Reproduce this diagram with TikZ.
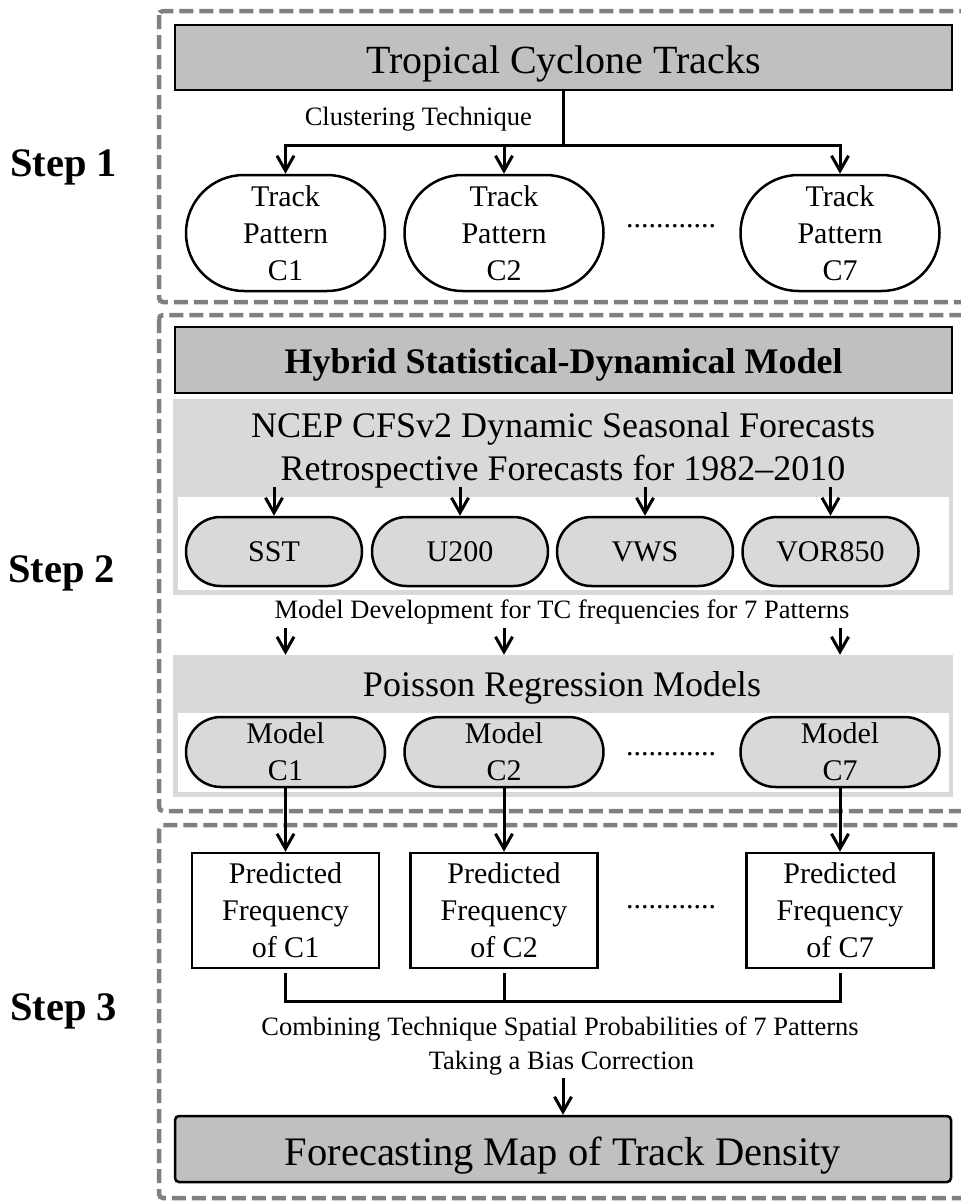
\documentclass[tikz,border=0pt]{standalone}
\usepackage{fontspec}
\setmainfont{Liberation Serif}
\usetikzlibrary{arrows.meta,shapes.misc}

\definecolor{framegray}{HTML}{808080}
\definecolor{titlegray}{HTML}{C0C0C0}
\definecolor{panelgray}{HTML}{D9D9D9}

\tikzset{
  stepframe/.style={draw=framegray, line width=4.5pt, dash pattern=on 14pt off 6pt, rounded corners=4pt},
  titlebox/.style={draw, line width=2.5pt, fill=titlegray, inner sep=0pt, minimum width=777pt, minimum height=65pt, text depth=0pt},
  panel/.style={fill=panelgray, inner sep=0pt, minimum width=780pt},
  whitepanel/.style={fill=white, inner sep=0pt, minimum width=771pt},
  pill/.style={draw, line width=2.5pt, rounded rectangle, inner sep=0pt, align=center, font=\fontsize{30}{37}\selectfont},
  freqbox/.style={draw, line width=2.5pt, fill=white, inner sep=0pt, align=center, minimum width=187pt, minimum height=115pt, font=\fontsize{30}{37}\selectfont},
  steplabel/.style={anchor=base west, inner sep=0pt, font=\fontsize{40.5}{48}\selectfont\bfseries},
  smalllabel/.style={inner sep=0pt, font=\fontsize{26.5}{32}\selectfont},
  paneltext/.style={anchor=base, inner sep=0pt, font=\fontsize{36}{43}\selectfont},
  ellipsis/.style={anchor=base, inner sep=0pt, font=\fontsize{30}{36}\selectfont},
  conn/.style={line width=3pt},
  arr/.style={conn, -{Straight Barb[length=15pt,width=17pt]}},
}

\begin{document}
\begin{tikzpicture}[x=1pt, y=-1pt]
\useasboundingbox (0,0) rectangle (961,1202);
\clip (0,0) rectangle (961,1202);

% dashed frames of the three steps
\draw[stepframe] (159,11) rectangle (990,302);
\draw[stepframe] (159,315) rectangle (990,811);
\draw[stepframe] (159,825) rectangle (990,1198);

% step labels
\node[steplabel] (step1) at (10,176) {Step 1};
\node[steplabel] (step2) at (8,582) {Step 2};
\node[steplabel] (step3) at (10,1020) {Step 3};

% ---------- Step 1 ----------
\node[titlebox, text height=31.6pt, font=\fontsize{40}{48}\selectfont] (trop) at (563.5,57.5) {Tropical Cyclone Tracks};
\node[smalllabel, anchor=base east] (clus) at (532,125) {Clustering Technique};

\node[pill, fill=white, minimum width=199pt, minimum height=116pt] (tp1) at (285.5,233) {Track\\Pattern\\C1};
\node[pill, fill=white, minimum width=199pt, minimum height=116pt] (tp2) at (504,233) {Track\\Pattern\\C2};
\node[pill, fill=white, minimum width=199pt, minimum height=116pt] (tp3) at (840,233) {Track\\Pattern\\C7};
\node[ellipsis] (dots1) at (671,227) {............};

\draw[conn] (trop.south) -- ++(0,54) coordinate (split);
\draw[arr] (split) -| (tp1.north);
\draw[arr] (split) -| (tp2.north);
\draw[arr] (split) -| (tp3.north);

% ---------- Step 2 ----------
\node[titlebox, text height=26.6pt, minimum height=66pt, font=\fontsize{36}{43}\selectfont\bfseries] (hybrid) at (563.5,360) {Hybrid Statistical-Dynamical Model};

\node[panel, minimum height=196pt] (ncep) at (563,497) {};
\node[whitepanel, minimum height=93pt] (ncepin) at (563.5,543.5) {};
\node[paneltext] (ncep1) at (563,437) {NCEP CFSv2 Dynamic Seasonal Forecasts};
\node[paneltext] (ncep2) at (563,480) {Retrospective Forecasts for 1982--2010};

\node[pill, fill=panelgray, minimum width=176pt, minimum height=69pt] (v1) at (274,551.5) {SST};
\node[pill, fill=panelgray, minimum width=176pt, minimum height=69pt] (v2) at (460,551.5) {U200};
\node[pill, fill=panelgray, minimum width=176pt, minimum height=69pt] (v3) at (645,551.5) {VWS};
\node[pill, fill=panelgray, minimum width=176pt, minimum height=69pt] (v4) at (830.5,551.5) {VOR850};

\coordinate (ncepout) at (0,487);
\foreach \v in {v1,v2,v3,v4}
  \draw[arr] (\v.north |- ncepout) -- (\v.north);

\node[smalllabel, anchor=base] (mdev) at (562,618) {Model Development for TC frequencies for 7 Patterns};

\node[panel, minimum height=142pt] (poisson) at (563,726) {};
\node[whitepanel, minimum height=79pt] (poissonin) at (563.5,752.5) {};
\node[paneltext] (poissontxt) at (562,696) {Poisson Regression Models};

\node[pill, fill=panelgray, minimum width=199pt, minimum height=70pt] (m1) at (285.5,752) {Model\\C1};
\node[pill, fill=panelgray, minimum width=199pt, minimum height=70pt] (m2) at (504,752) {Model\\C2};
\node[pill, fill=panelgray, minimum width=199pt, minimum height=70pt] (m3) at (840,752) {Model\\C7};
\node[ellipsis] (dots2) at (671,755) {............};

\coordinate (mdevout) at (0,628);
\foreach \m in {m1,m2,m3}
  \draw[arr] (\m.north |- mdevout) -- (\m.north |- poisson.north);

% ---------- Step 3 ----------
\node[freqbox] (p1) at (285.5,910.5) {Predicted\\Frequency\\of C1};
\node[freqbox] (p2) at (504,910.5) {Predicted\\Frequency\\of C2};
\node[freqbox] (p3) at (840,910.5) {Predicted\\Frequency\\of C7};
\node[ellipsis] (dots3) at (671,908) {............};

\draw[arr] (m1.south) -- (p1.north);
\draw[arr] (m2.south) -- (p2.north);
\draw[arr] (m3.south) -- (p3.north);

\coordinate (joinrow) at (0,1001);
\draw[conn] ([yshift=-4pt]p1.south) |- (p3.south |- joinrow) -- ([yshift=-4pt]p3.south);
\draw[conn] ([yshift=-4pt]p2.south) -- (p2.south |- joinrow);

\node[smalllabel, anchor=base] (comb1) at (560,1035) {Combining Technique Spatial Probabilities of 7 Patterns};
\node[smalllabel, anchor=base] (comb2) at (561.5,1069) {Taking a Bias Correction};

\node[draw, line width=2.5pt, fill=titlegray, rounded corners=4pt, inner sep=0pt, minimum width=776pt, minimum height=66pt, text height=32pt, text depth=0pt, font=\fontsize{40.5}{48}\selectfont] (fc) at (563,1149) {Forecasting Map of Track Density};

\coordinate (biasout) at (563,1078);
\draw[arr] (biasout) -- (fc.north);
\end{tikzpicture}
\end{document}
